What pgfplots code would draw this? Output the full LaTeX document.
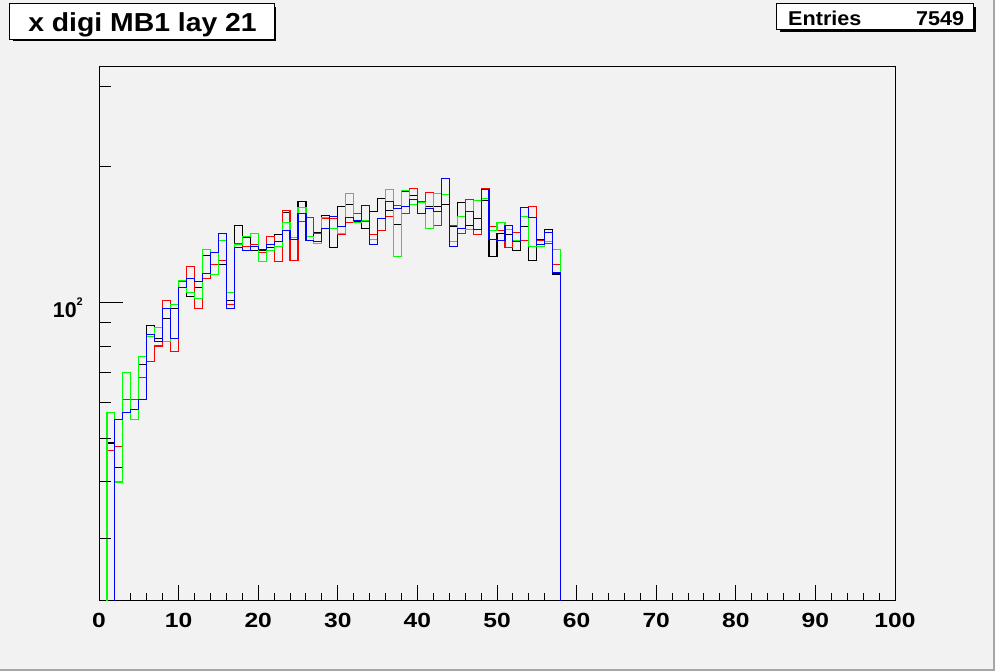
\documentclass[border=0pt]{standalone}
\usepackage{fontspec}
\setmainfont{Liberation Sans}
\usepackage{graphicx}
\usepackage{pgfplots}
\usepackage{pgfplotstable}
\pgfplotsset{compat=1.18}
\definecolor{bg}{RGB}{242,242,242}
\definecolor{hgreen}{RGB}{0,255,0}
\definecolor{hred}{RGB}{255,0,0}
\definecolor{hblue}{RGB}{0,0,255}
\pgfplotstableread{
x k r g b
0 1 1 1 1
1 48.8 47.0 57.0 1
2 43.1 48.0 40.0 55.0
3 61 60.9 70.0 57.0
4 60.9 61 55.0 57.9
5 72.9 68.2 75.9 60.9
6 88.9 74.0 84.1 84.9
7 83.2 80.0 88.0 81.9
8 92.2 101.0 81.9 97.0
9 97.0 77.9 99.0 83.2
10 111.3 111 111.9 108.0
11 103.1 120.2 105.2 113.0
12 108.0 97.0 102.1 111.3
13 127.1 113.0 131.1 116.0
14 121.4 121.4 115.4 129.1
15 121.4 123.9 137.2 142.2
16 101.0 99.0 105.2 97.0
17 148.2 135.1 134.5 132.4
18 139.4 133.1 140.1 130.4
19 130.4 134.5 142.2 133.1
20 130.4 129.1 123.3 131.1
21 132.4 140.1 130.4 134.5
22 141.5 123.3 133.1 136.6
23 158.3 160.0 150.4 144.4
24 139 123.9 139.4 138.0
25 167.5 151.2 162.4 157.5
26 140 154.3 140.1 137.2
27 142.9 142.2 135.1 136.6
28 155.9 153.5 154.3 145.9
29 132.4 153.5 145.9 155.1
30 163.3 141.5 142.2 147.4
31 164.9 150.4 174.5 154.3
32 151.2 157.5 150.4 152.0
33 145.9 151.2 152.0 164.1
34 159.1 141.5 138.0 134.5
35 170.1 144.4 153 153.5
36 160.0 155.1 178.1 167.5
37 148.9 164.1 126.5 161.6
38 175.6 157.5 177.1 163.3
39 172.7 178.9 164.9 169.2
40 167 167.5 166.7 157.5
41 163.3 175.4 145.9 161.6
42 163.3 148.2 174.5 159.1
43 164.9 173 173.6 188.4
44 147.4 148.2 136.6 133.1
45 166.7 142.2 155.1 145.9
46 148.2 169.2 145.2 159.1
47 153.5 141.5 168.3 145.2
48 168.3 178.9 170.1 178.1
49 126.5 147.4 144.4 138.0
50 142.2 144.4 150.4 137.2
51 141.5 132.4 145.2 148.2
52 130.4 142.9 137.2 136.6
53 147.4 137.2 155.1 162.4
54 123.9 163.3 133.1 154.3
55 138.0 137.2 133.1 134.5
56 145.2 135.1 136.6 142.9
57 115.5 121.4 131.1 116.3
58 1 1 1 1
100 1 1 1 1
}\hdata
\begin{document}
\begin{tikzpicture}
\useasboundingbox (0pt,0pt) rectangle (995pt,671pt);
\fill[bg] (0pt,0pt) rectangle (995pt,671pt);
\draw[gray!70, line width=2pt] (994pt,0pt)--(994pt,671pt);
\draw[gray!70, line width=2pt] (0pt,1pt)--(995pt,1pt);
% title box
\fill[black] (13.3pt,629.5pt) rectangle (276.3pt,664pt);
\filldraw[fill=white, draw=black, line width=1pt] (9.3pt,631.7pt) rectangle (274pt,667.7pt);
\node[anchor=base, inner sep=0pt] at (142.5pt,639.3pt) {\scalebox{1.09}[1]{\bfseries\fontsize{26}{26}\selectfont x digi MB1 lay 21}};
% stats box
\fill[black] (780pt,639.3pt) rectangle (976pt,664pt);
\filldraw[fill=white, draw=black, line width=1pt] (776.7pt,641.7pt) rectangle (973pt,667.7pt);
\node[anchor=base west, inner sep=0pt] at (788pt,645pt) {\scalebox{1.08}[1]{\bfseries\fontsize{20}{20}\selectfont Entries}};
\node[anchor=base east, inner sep=0pt] at (964.3pt,645pt) {\scalebox{1.08}[1]{\bfseries\fontsize{20}{20}\selectfont 7549}};
\begin{axis}[
  at={(99pt,70pt)}, anchor=south west, scale only axis,
  width=796pt, height=534pt,
  xmin=0, xmax=100, ymode=log, ymin=21.8, ymax=332,
  axis line style={line width=1pt},
  axis background/.style={fill=bg},
  xtick={0,10,...,100}, minor x tick num=4, xtick pos=left,
  ytick=\empty,
  tick align=inside, major tick length=16pt, minor tick length=8pt,
  every tick/.style={black, line width=1pt},
  xticklabel={\scalebox{1.2}[1]{\pgfmathprintnumber[assume math mode=true]{\tick}}},
  xticklabel style={font=\bfseries\fontsize{20.5}{20.5}\selectfont, anchor=base, inner sep=0pt, yshift=-26.3pt},
]
\addplot[const plot, black, line width=1.1pt] table[x=x,y=k]{\hdata};
\addplot[const plot, hred, line width=1.1pt] table[x=x,y=r]{\hdata};
\addplot[const plot, hgreen, line width=1.1pt] table[x=x,y=g]{\hdata};
\addplot[const plot, hblue, line width=1.1pt] table[x=x,y=b]{\hdata};
\end{axis}
\begin{axis}[
  at={(99pt,70pt)}, anchor=south west, scale only axis,
  width=796pt, height=534pt,
  xmin=0, xmax=100, ymode=log, ymin=21.8, ymax=332,
  axis line style={draw=none},
  xtick=\empty,
  ytick={100}, yticklabels={\textbf{10}\raisebox{12pt}{\fontsize{11}{11}\selectfont\bfseries 2}},
  minor ytick={30,40,50,60,70,80,90,200,300},
  ytick pos=left, tick align=inside,
  major tick length=24pt, minor tick length=12pt,
  every tick/.style={black, line width=1pt},
  yticklabel style={font=\bfseries\fontsize{21.4}{21.4}\selectfont, anchor=base east, inner sep=0pt, xshift=-16pt, yshift=-15.4pt},
]
\end{axis}
\end{tikzpicture}
\end{document}
